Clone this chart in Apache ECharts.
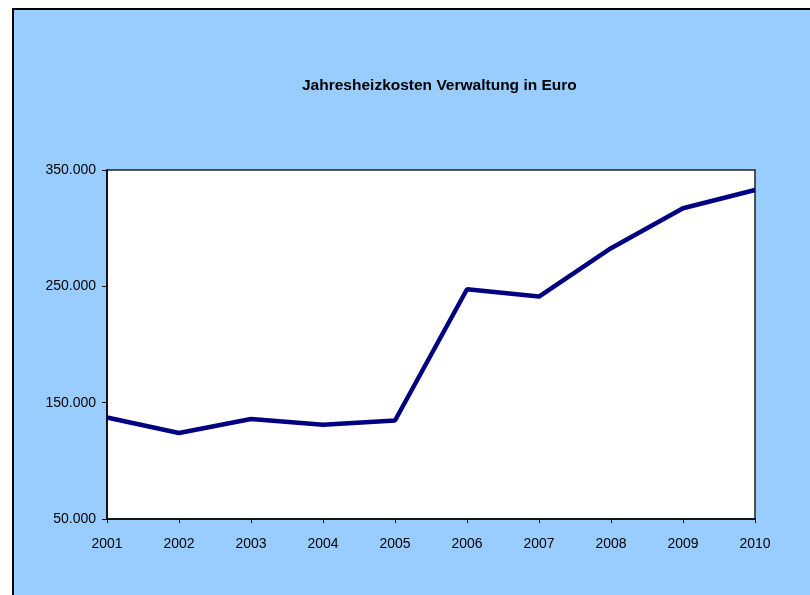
<!DOCTYPE html>
<html lang="de">
<head>
<meta charset="UTF-8">
<title>Jahresheizkosten Verwaltung in Euro</title>
<script src="https://cdn.jsdelivr.net/npm/echarts@6/dist/echarts.min.js"></script>
<style>
  html, body { margin: 0; padding: 0; background: #fff; }
  #chart { width: 810px; height: 595px; }
</style>
</head>
<body>
<div id="chart"></div>
<script>
// Jahre und Heizkosten (Euro)
var jahre = ['2001', '2002', '2003', '2004', '2005', '2006', '2007', '2008', '2009', '2010'];
var kosten = [137300, 123900, 135900, 131000, 134700, 247500, 241200, 282800, 317100, 332800];
var yTicks = [50000, 150000, 250000, 350000];

function fmt(v) {
    // deutsche Tausendertrennung: 350000 -> 350.000
    return String(v).replace(/\B(?=(\d{3})+(?!\d))/g, '.');
}

var chart = echarts.init(document.getElementById('chart'));
var option = {
    backgroundColor: '#ffffff',
    animation: false,
    graphic: [{
        type: 'rect',
        z: -10,
        shape: { x: 13, y: 9, width: 820, height: 620 },
        style: { fill: '#99CCFF', stroke: '#000000', lineWidth: 2 }
    }],
    title: {
        text: 'Jahresheizkosten Verwaltung in Euro',
        left: 297,
        top: 73,
        textStyle: {
            fontFamily: 'Liberation Sans, Arial, sans-serif',
            fontWeight: 'bold',
            fontSize: 15.5,
            color: '#000'
        }
    },
    grid: {
        left: 107, top: 170, right: 55, bottom: 76,
        show: true,
        backgroundColor: '#ffffff',
        borderColor: '#222',
        borderWidth: 1.5
    },
    xAxis: {
        type: 'category',
        data: jahre,
        boundaryGap: false,
        axisLine: { lineStyle: { color: '#000', width: 1.5 } },
        axisTick: { show: true, length: 4, lineStyle: { color: '#000' } },
        axisLabel: {
            margin: 18,
            fontFamily: 'Liberation Sans, Arial, sans-serif',
            fontSize: 14,
            color: '#000'
        },
        splitLine: { show: false }
    },
    yAxis: {
        type: 'value',
        min: yTicks[0],
        max: yTicks[yTicks.length - 1],
        interval: 100000,
        axisLine: { show: true, lineStyle: { color: '#000', width: 1.5 } },
        axisTick: { show: true, length: 5, lineStyle: { color: '#000' } },
        axisLabel: {
            margin: 11,
            fontFamily: 'Liberation Sans, Arial, sans-serif',
            fontSize: 14,
            color: '#000',
            formatter: fmt
        },
        splitLine: { show: false }
    },
    series: [{
        type: 'line',
        data: kosten,
        symbol: 'none',
        lineStyle: { color: '#000080', width: 4.5 },
        itemStyle: { color: '#000080' }
    }]
};
chart.setOption(option);
</script>
</body>
</html>
